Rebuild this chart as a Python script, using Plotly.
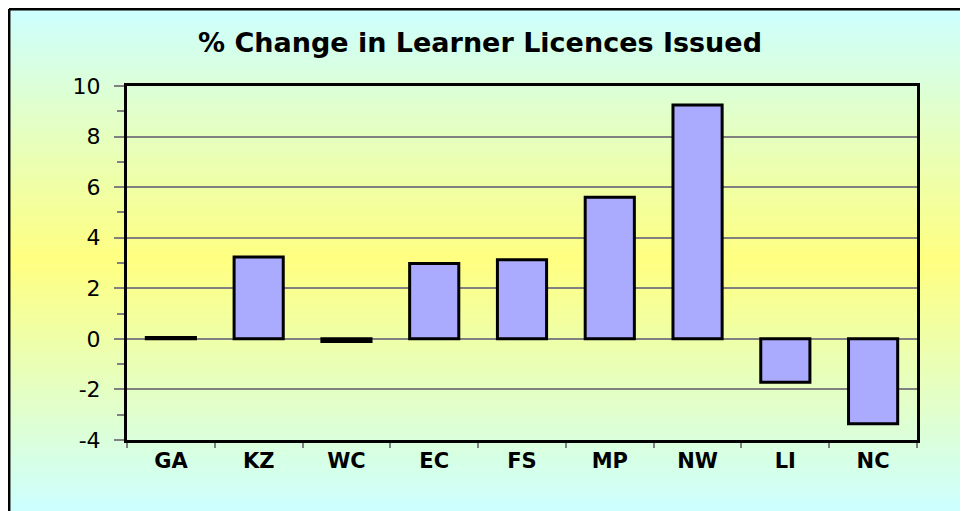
import plotly.graph_objects as go

categories = ["GA", "KZ", "WC", "EC", "FS", "MP", "NW", "LI", "NC"]
values = [0.05, 3.24, -0.1, 2.98, 3.13, 5.6, 9.25, -1.72, -3.36]
y_tickvals = [-4, -2, 0, 2, 4, 6, 8, 10]
y_ticktext = ["-4", "-2", "0", "2", "4", "6", "8", "10"]
title_text = "% Change in Learner Licences Issued"

# the page adds an 8px body margin, so figure coords = screen coords - 8
W, H = 960, 503
L, R, T, B = 119, 51, 78, 71
pw, ph = W - L - R, H - T - B

def px_x(px):
    return (px - L) / pw

def px_y(py):
    return (H - B - py) / ph

fig = go.Figure()
fig.add_trace(go.Bar(
    x=categories, y=values,
    marker=dict(color="#AAAAFF", line=dict(color="black", width=3)),
    width=0.56,
))

# gradient background stripes (cyan -> yellow -> cyan)
shapes = []
top_px, bot_px = 1, 503
n = 120
c1 = (204, 255, 255)
c2 = (255, 255, 128)
for i in range(n):
    y0 = top_px + (bot_px - top_px) * i / n
    y1 = top_px + (bot_px - top_px) * (i + 1) / n
    t = (i + 0.5) / n
    f = 1 - abs(2 * t - 1)
    col = tuple(round(c1[k] + (c2[k] - c1[k]) * f) for k in range(3))
    shapes.append(dict(type="rect", xref="paper", yref="paper",
                       x0=px_x(0), x1=px_x(W + 5), y0=px_y(y1 + 0.6), y1=px_y(y0),
                       fillcolor="rgb(%d,%d,%d)" % col, line=dict(width=0),
                       layer="below"))
# outer border (left and top)
shapes.append(dict(type="line", xref="paper", yref="paper",
                   x0=px_x(1), x1=px_x(W + 5), y0=px_y(1.2), y1=px_y(1.2),
                   line=dict(color="black", width=2.5), layer="above"))
shapes.append(dict(type="line", xref="paper", yref="paper",
                   x0=px_x(1.2), x1=px_x(1.2), y0=px_y(1), y1=px_y(H + 5),
                   line=dict(color="black", width=2.5), layer="above"))

fig.update_layout(
    width=W, height=H,
    margin=dict(l=L, r=R, t=T, b=B),
    paper_bgcolor="white",
    plot_bgcolor="rgba(0,0,0,0)",
    shapes=shapes,
    showlegend=False,
    bargap=0.44,
    font=dict(family="Arial, Liberation Sans, sans-serif", color="black"),
    title=dict(text="<b>" + title_text + "</b>", x=px_x(472), xref="paper",
               xanchor="center", y=1 - 35 / H, yref="container", yanchor="middle",
               font=dict(size=27, color="black", family="DejaVu Sans")),
)
fig.update_xaxes(
    showline=True, linecolor="black", linewidth=3, mirror=True,
    ticks="outside", tickson="boundaries", ticklen=5, tickcolor="#808080", tickwidth=2,
    tickfont=dict(size=21, family="DejaVu Sans"),
    tickprefix="<b>", ticksuffix="</b>",
    showgrid=False,
)
fig.update_yaxes(
    range=[-4, 10], tickvals=y_tickvals, ticktext=y_ticktext,
    showline=True, linecolor="black", linewidth=3, mirror=True,
    ticks="outside", ticklen=10, tickcolor="#808080", tickwidth=2,
    minor=dict(dtick=1, ticks="outside", ticklen=7, tickcolor="#808080", tickwidth=2, showgrid=False),
    showgrid=True, gridcolor="#808080", gridwidth=2,
    zeroline=True, zerolinecolor="#808080", zerolinewidth=2,
    tickfont=dict(size=22, family="DejaVu Sans"),
    ticklabelstandoff=9,
)
fig.write_html("out.html")
